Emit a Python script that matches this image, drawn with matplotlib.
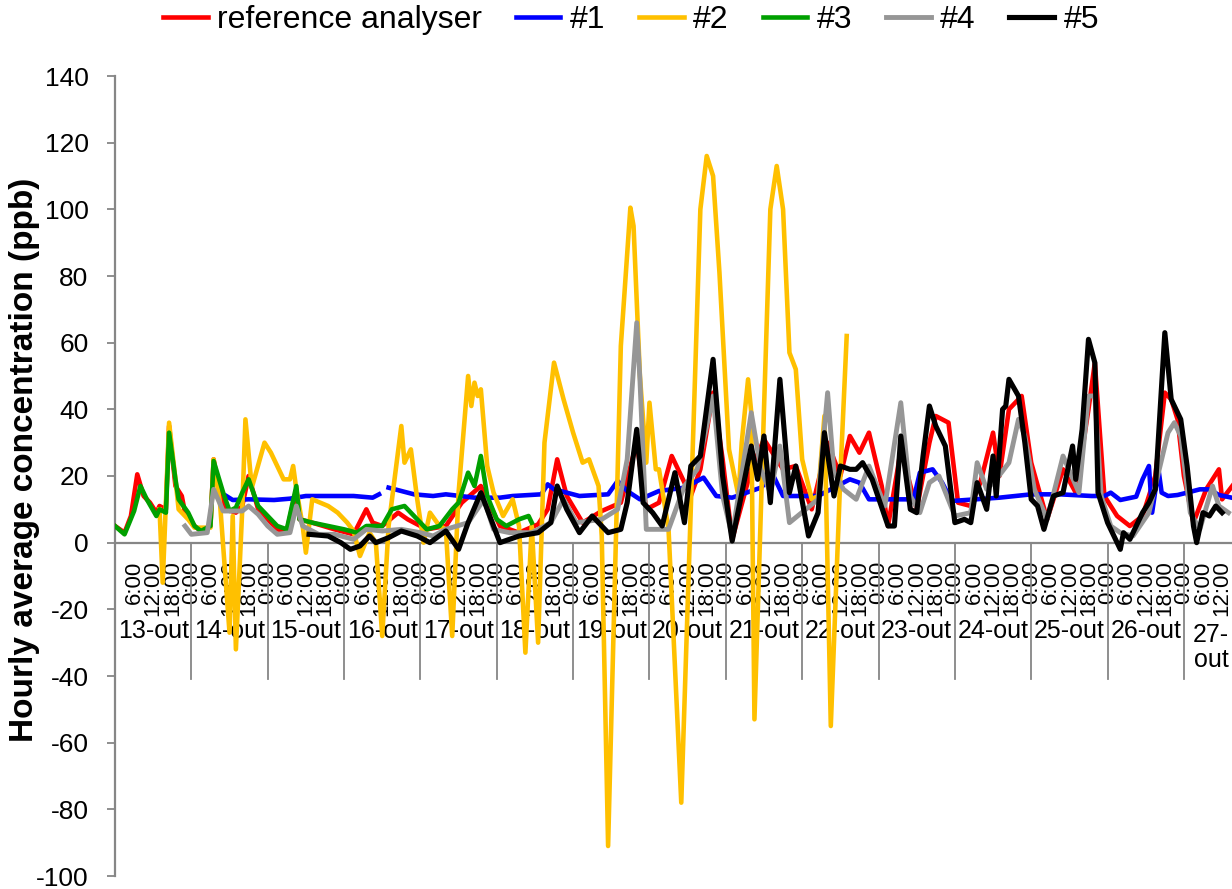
import numpy as np
import matplotlib.pyplot as plt

plt.rcParams['font.family'] = ['Liberation Sans', 'DejaVu Sans']
plt.rcParams['axes.unicode_minus'] = False

# hours counted from 13-out 0:00, hourly averages in ppb
ref_h = [0, 3, 5, 7, 9, 11, 13, 14, 16, 17, 19, 21, 22, 25, 27, 30, 31, 33, 35, 38, 40, 42, 45, 48, 51, 54,
         57, 58, 62, 69, 75, 79, 81, 84, 89, 92, 98, 104, 109, 115, 118, 121, 127, 133, 136, 139, 142, 147,
         153, 159, 164, 167, 171, 175, 181, 184, 188, 191, 194, 200, 204, 210, 214, 219, 224, 228, 231, 234,
         237, 241, 243, 246, 247, 252, 256, 258, 262, 265, 269, 272, 276, 278, 281, 285, 288, 293, 298, 302,
         306, 308, 311, 315, 319, 323, 327, 330, 332, 334, 336, 339, 343, 347, 348, 352]
ref_v = [5, 3, 8, 20.5, 14, 12, 9, 11, 10, 35, 17, 14, 9, 5, 3.5, 5, 25, 14, 10, 9, 11, 20, 10, 7, 4, 3.5,
         16, 7, 6, 4, 2.5, 10, 6, 5, 9, 7, 4, 5, 12, 17, 11, 5, 3, 5.5, 10, 25, 14, 6,
         9.5, 12, 30, 10, 12, 26, 14, 22, 45, 25, 1, 22, 31, 22, 23, 10, 30, 20, 32, 27,
         33, 17, 5, 22, 28, 10, 30, 38, 36, 12, 11, 18, 33, 20, 40, 44, 24, 7, 22, 15,
         40, 54, 14, 8, 5, 8, 20, 45, 43, 37, 20, 6, 16, 22, 13, 18]

s1_h = [35, 37, 42, 50, 55, 60, 69, 75, 81, 83, 84, 86, 90, 94, 100, 104, 113, 121, 125, 134, 136, 138,
        146, 155, 158, 161, 165, 171, 179, 185, 189, 194, 203, 207, 210, 221, 231, 234, 237, 251, 253,
        257, 260, 263, 278, 288, 297, 307, 311, 313, 316, 321, 323, 325, 326, 328, 329, 331, 334, 337,
        341, 344, 347, 352]
s1_v = [14, 12.8, 13, 12.8, 13.2, 14, 14, 14, 13.5, 14.5, np.nan, 16.5, 15.5, 14.5, 14, 14.5, 13.5, 13.5,
        14, 14.5, 17.5, 16, 14, 14.5, 18.5, 15.5, 13, 15.5, 16.5, 19.5, 14, 13.5, 16.5, 20, 14, 14, 19,
        18, 13, 13, 21, 22, 18, 12.5, 13.5, 14.5, 14.5, 14, 14, 15, 12.8, 13.8, 19, 23, 9, 22, 15, 14,
        14.3, 15, 16, 16, 14.3, 13.3]

s2_h = [14, 15, 17, 19, 20, 23, 25, 30, 31, 32, 33, 36, 37, 38, 40, 41, 43, 47, 49, 51, 53, 55, 56, 57,
        59, 60, 62, 67, 70, 73, 75, 77, 80, 82, 84, 86, 88, 90, 91, 93, 95, 97, 99, 102, 104, 106, 108,
        111, 112, 113, 114, 115, 117, 119, 122, 125, 127, 129, 131, 133, 135, 138, 141, 144, 147, 149,
        152, 153, 155, 159, 162, 163, 165, 167, 168, 170, 171, 174, 178, 182, 184, 186, 188, 190, 193,
        196, 197, 199, 200, 201, 204, 206, 208, 210, 212, 214, 216, 219, 221, 223, 225, 228, 230]
s2_v = [10, -12, 36, 19, 10, 7, 4.5, 4.5, 25, 18, 12, -27, 8, -32, 10, 37, 16.5, 30, 27, 23, 19, 19, 23,
        16, 5, -3, 13, 11, 9, 6, 3.5, -4, 3, 0, -28, 5, 20, 35, 24, 28, 13, 0, 9, 5, 4, -28, 15,
        50, 41, 48, 44, 46, 23, 15, 8, 13, 5, -33, 5, -30, 30, 54, 43, 33, 24, 25,
        17, 2, -91, 59, 100.5, 95, 50, 24, 42, 22, 22, 4, -78, 40, 100, 116, 110, 81, 28,
        14, 30, 49, 39, -53, 40, 100, 113, 100, 57, 52, 25, 13, 14, 38, -55, 20, 62]

s3_h = [0, 3, 6, 8, 10, 13, 14, 16, 17, 19, 20, 23, 25, 27, 30, 31, 34, 36, 38, 40, 42, 45, 48, 51, 54,
        57, 58, 62, 67, 72, 76, 79, 84, 87, 91, 94, 98, 102, 106, 108, 111, 113, 115, 117, 120, 123,
        127, 130, 131]
s3_v = [5, 2.5, 9.5, 17, 13, 8, 10, 9, 33, 19, 13, 9, 5, 3.5, 5, 24.5, 15, 9.5, 10.5, 15, 19, 11, 8, 5, 4,
        17, 7, 6, 5, 4, 3, 5, 5, 10, 11, 8, 4, 5, 10, 12, 21, 17, 26, 14, 7, 5,
        7, 8, 6]

s4_h = [22, 24, 29, 31, 34, 37, 40, 42, 45, 48, 51, 55, 57, 59, 64, 69, 75, 79, 84, 90, 96, 100, 104,
        111, 116, 119, 124, 131, 137, 141, 145, 153, 158, 161, 164, 165, 167, 174, 179, 183, 186, 188,
        191, 194, 200, 203, 206, 209, 212, 221, 224, 226, 229, 233, 237, 242, 247, 250, 253, 256, 259,
        264, 269, 271, 274, 277, 281, 284, 286, 289, 293, 298, 303, 306, 308, 310, 313, 316, 320, 325,
        331, 333, 335, 338, 341, 345, 347, 350]
s4_v = [5, 2.5, 3, 16, 9.5, 9.5, 9.5, 11, 8.5, 5, 2.5, 3, 11, 5, 2.5, 2.5, 1, 4, 3.5, 4, 3, 2, 4,
        6, 13, 4, 3, 3, 6, 13, 6, 7, 10, 25, 66, 49, 4, 4, 17, 22, 35, 44,
        14, 2, 39, 22, 15, 29, 6, 13, 45, 21, 16, 13, 23, 11, 42, 14, 9, 18, 20,
        8, 9, 24, 16, 19, 24, 37, 32, 16, 7, 26, 15, 44, 44, 14, 5, 3, 2, 9,
        33, 36, 32, 9, 4, 17, 11, 9]

s5_h = [61, 67, 71, 74, 77, 80, 82, 86, 90, 95, 99, 104, 108, 111, 115, 117, 121, 127, 133, 137, 139,
        142, 146, 150, 155, 159, 161, 164, 166, 169, 172, 176, 179, 181, 184, 188, 191, 194, 200, 202,
        204, 206, 209, 212, 214, 218, 221, 223, 226, 228, 231, 233, 235, 238, 243, 245, 247, 250, 252,
        254, 256, 258, 261, 264, 267, 269, 271, 274, 276, 277, 279, 280, 281, 284, 286, 288, 290, 292,
        295, 298, 301, 302, 304, 306, 308, 309, 312, 314, 316, 317, 319, 323, 325, 327, 330, 332, 335,
        337, 339, 340, 342, 344, 346, 348]
s5_v = [2.5, 2, 0, -2, -1, 2, 0, 1.5, 3.5, 2, 0, 3.5, -2, 6, 15, 10, 0, 2, 3, 6, 17,
        10, 3, 8, 3, 4, 12, 34, 12, 9, 5, 21, 6, 23, 26, 55, 20, 0.5, 29, 19,
        32, 12, 49, 15, 23, 2, 9, 33, 14, 23, 22, 22, 24, 19, 5, 5, 32, 10, 9,
        26, 41, 35, 29, 6, 7, 6, 18, 10, 26, 14, 40, 41, 49, 44, 30, 13, 11, 4,
        14, 15, 29, 19, 34, 61, 54, 15, 6, 2, -2, 3, 1, 9, 12, 16, 63, 43, 37,
        23, 5, 0, 9, 8, 11, 9]

series = [
    ('reference analyser', ref_h, ref_v, '#FF0000', 3.3),
    ('#1', s1_h, s1_v, '#0000FF', 3.3),
    ('#2', s2_h, s2_v, '#FFC000', 3.3),
    ('#3', s3_h, s3_v, '#00A000', 3.3),
    ('#4', s4_h, s4_v, '#969696', 3.5),
    ('#5', s5_h, s5_v, '#000000', 3.7),
]

days = ['13-out', '14-out', '15-out', '16-out', '17-out', '18-out', '19-out', '20-out',
        '21-out', '22-out', '23-out', '24-out', '25-out', '26-out', '27-\nout']
last_hour = 353

fig = plt.figure(figsize=(12.32, 8.89), dpi=100)
ax = fig.add_axes([115 / 1232, 13 / 889, 1123 / 1232, 800 / 889])

for name, h, v, c, w in series:
    ax.plot(h, v, color=c, lw=w, label=name, solid_joinstyle='round', zorder=3)

ax.set_xlim(0, last_hour)
ax.set_ylim(-100, 140)
ax.set_yticks(np.arange(-100, 141, 20))
ax.set_xticks([])
ax.tick_params(axis='y', labelsize=19, length=6, width=1.3, color='#868686', pad=13)
for s in ['top', 'right', 'bottom']:
    ax.spines[s].set_visible(False)
ax.spines['left'].set_color('#868686')
ax.spines['left'].set_linewidth(1.6)

# category axis drawn at zero: hour labels, then day labels between separators
ax.axhline(0, color='#868686', lw=1.6, zorder=2)
for d in range(1, len(days)):
    ax.plot([24 * d, 24 * d], [0, -41], color='#868686', lw=1.3, zorder=2)

for hh in range(6, last_hour, 6):
    ax.text(hh, -5.4, f'{hh % 24}:00', rotation=90, ha='center', va='top',
            fontsize=16, zorder=1)

for d, lab in enumerate(days):
    if d < len(days) - 1:
        ax.text(24 * d + 12, -26.5, lab, ha='center', va='center', fontsize=18, zorder=1)
    else:
        ax.text((24 * d + last_hour) / 2, -24, lab, ha='center', va='top', fontsize=18,
                linespacing=1.05, zorder=1)

fig.text(25 / 1232, 1 - 460 / 889, 'Hourly average concentration (ppb)', rotation=90,
         ha='center', va='center', fontsize=24, fontweight='bold')

fig.legend(loc='center', bbox_to_anchor=(631 / 1232, 1 - 20 / 889), ncol=6, frameon=False,
           fontsize=23, handlelength=1.4, handletextpad=0.3, columnspacing=1.05)

fig.savefig('out.png', dpi=100)
